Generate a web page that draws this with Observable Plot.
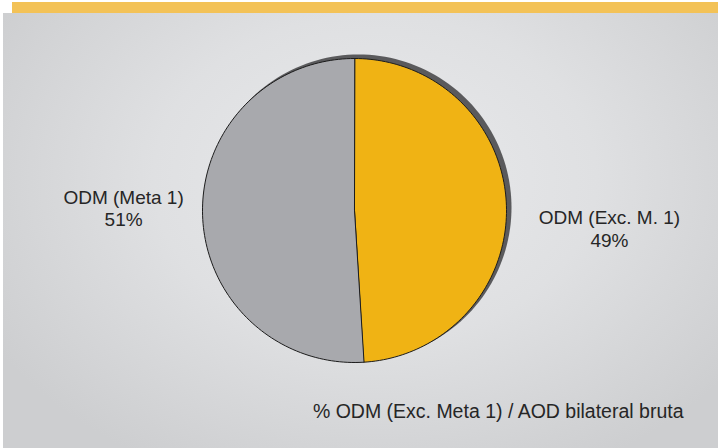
<!DOCTYPE html>
<html><head><meta charset="utf-8">
<script src="https://cdn.jsdelivr.net/npm/d3@7"></script>
<script src="https://cdn.jsdelivr.net/npm/@observablehq/plot@0.6"></script>
<style>
html,body{margin:0;padding:0;background:#fff;width:718px;height:448px;overflow:hidden}
#wrap{position:relative;width:718px;height:448px}
#bar{position:absolute;left:12px;top:2px;width:706px;height:11px;background:#F3C257}
#panel{position:absolute;left:3px;top:13px;width:715px;height:435px;
  background:radial-gradient(ellipse 62% 75% at 52% 38%, #E9EAEC 0%, #DFE0E2 50%, #CDCED0 100%)}
#chart{position:absolute;left:0;top:0}
</style></head><body>
<div id="wrap"><div id="bar"></div><div id="panel"></div><div id="chart"></div></div>
<script>
const categories = ["ODM (Exc. M. 1)", "ODM (Meta 1)"];
const shares = [49, 51];
const colors = ["#F0B314", "#A8A9AD"];
const caption = "% ODM (Exc. Meta 1) / AOD bilateral bruta";

const table = categories.map((c, i) => ({category: c, share: shares[i]}));
const arcs = d3.pie().sort(null).value(d => d.share)(table);

// slice outlines (center + arc points), in unit-circle coordinates
const slicePts = [];
arcs.forEach(a => {
  slicePts.push({category: a.data.category, x: 0, y: 0});
  const n = 120;
  for (let k = 0; k <= n; k++) {
    const t = a.startAngle + (a.endAngle - a.startAngle) * k / n;
    slicePts.push({category: a.data.category, x: Math.sin(t), y: Math.cos(t)});
  }
});
const R = 152, cx = 354, cy = 210, W = 718, H = 448;
const rr = 1 + 1 / R;
const rimPts = d3.range(0, 361, 2).map(d => ({x: rr * Math.sin(d * Math.PI / 180), y: rr * Math.cos(d * Math.PI / 180)}));

const labels = arcs.map(a => {
  const m = (a.startAngle + a.endAngle) / 2;
  return {category: a.data.category, x: 1.52 * Math.sin(m), y: 1.52 * Math.cos(m),
          text: a.data.category + "\n" + a.data.share + "%"};
});

const chart = Plot.plot({
  width: W, height: H, margin: 0,
  x: {domain: [-cx / R, (W - cx) / R], axis: null},
  y: {domain: [-(H - cy) / R, cy / R], axis: null},
  color: {domain: categories, range: colors},
  style: {background: "transparent", fontFamily: "'Liberation Sans', Arial, sans-serif"},
  marks: [
    Plot.line(rimPts, {x: "x", y: "y", curve: "linear-closed", fill: "#5A5A5C", stroke: "none", dx: 4, dy: -3}),
    Plot.line(slicePts, {x: "x", y: "y", z: "category", fill: "category", curve: "linear-closed",
      stroke: "#1c1c1c", strokeWidth: 1, strokeLinejoin: "round"}),
    Plot.text(labels.filter(d => d.category === categories[1]), {x: "x", y: "y", text: "text",
      fontSize: 19, lineHeight: 1.2, fill: "#262626", dx: 0, dy: -10}),
    Plot.text(labels.filter(d => d.category === categories[0]), {x: "x", y: "y", text: "text",
      fontSize: 19, lineHeight: 1.2, fill: "#262626", dx: 24, dy: 25}),
    Plot.text([caption], {text: d => d, frameAnchor: "bottom-right", textAnchor: "end",
      fontSize: 19.5, fill: "#262626", dx: -35, dy: -31})
  ]
});
document.getElementById("chart").appendChild(chart);
</script>
</body></html>
